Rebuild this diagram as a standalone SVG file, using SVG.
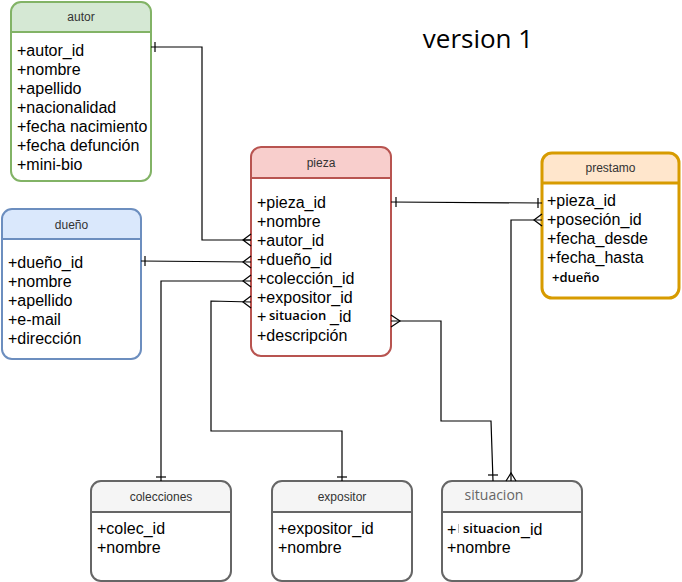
<svg xmlns="http://www.w3.org/2000/svg" width="682" height="582" viewBox="0 0 682 582">
  <style>
    .body { fill: #ffffff; }
    .frame { fill: none; stroke-width: 2; }
    .head { font-family: "Liberation Sans", Arial, sans-serif; font-size: 12px; fill: #333333; text-anchor: middle; }
    .row { font-family: "Liberation Sans", Arial, sans-serif; font-size: 16px; fill: #000000; }
    .strong { font-family: "Open Sans", "Liberation Sans", sans-serif; font-size: 13px; font-weight: 600; fill: #000000; }
    .link { fill: none; stroke: #000000; stroke-width: 1.2; }
    .green { stroke: #82b366; }
    .red { stroke: #b85450; }
    .blue { stroke: #6c8ebf; }
    .orange { stroke: #d79b00; stroke-width: 3; }
    .grey { stroke: #666666; }
  </style>

  <text x="478" y="48" font-family="'Open Sans', 'Noto Sans', sans-serif" font-size="26" text-anchor="middle" fill="#000">version 1</text>

  <!-- autor -->
  <g id="autor">
    <rect class="body" x="11" y="2" width="140" height="179" rx="10"/>
    <path d="M11,32 V12 Q11,2 21,2 H141 Q151,2 151,12 V32 Z" fill="#d5e8d4"/>
    <rect class="frame green" x="11" y="2" width="140" height="179" rx="10"/>
    <line class="green" x1="11" y1="32" x2="151" y2="32" stroke-width="2"/>
    <text class="head" x="81" y="21">autor</text>
    <text class="row" x="17" y="56">+autor_id</text>
    <text class="row" x="17" y="75">+nombre</text>
    <text class="row" x="17" y="94">+apellido</text>
    <text class="row" x="17" y="113">+nacionalidad</text>
    <text class="row" x="17" y="132">+fecha nacimiento</text>
    <text class="row" x="17" y="151">+fecha defunción</text>
    <text class="row" x="17" y="170">+mini-bio</text>
  </g>

  <!-- dueño -->
  <g id="dueno">
    <rect class="body" x="2" y="209" width="139" height="150" rx="10"/>
    <path d="M2,239 V219 Q2,209 12,209 H131 Q141,209 141,219 V239 Z" fill="#dae8fc"/>
    <rect class="frame blue" x="2" y="209" width="139" height="150" rx="10"/>
    <line class="blue" x1="2" y1="239" x2="141" y2="239" stroke-width="2"/>
    <text class="head" x="71.5" y="229">dueño</text>
    <text class="row" x="8" y="268">+dueño_id</text>
    <text class="row" x="8" y="287">+nombre</text>
    <text class="row" x="8" y="306">+apellido</text>
    <text class="row" x="8" y="325">+e-mail</text>
    <text class="row" x="8" y="344">+dirección</text>
  </g>

  <!-- pieza -->
  <g id="pieza">
    <rect class="body" x="251" y="147" width="140" height="209" rx="10"/>
    <path d="M251,178 V157 Q251,147 261,147 H381 Q391,147 391,157 V178 Z" fill="#f8cecc"/>
    <rect class="frame red" x="251" y="147" width="140" height="209" rx="10"/>
    <line class="red" x1="251" y1="178" x2="391" y2="178" stroke-width="2"/>
    <text class="head" x="321" y="167">pieza</text>
    <text class="row" x="257" y="208">+pieza_id</text>
    <text class="row" x="257" y="227">+nombre</text>
    <text class="row" x="257" y="246">+autor_id</text>
    <text class="row" x="257" y="265">+dueño_id</text>
    <text class="row" x="257" y="284">+colección_id</text>
    <text class="row" x="257" y="303">+expositor_id</text>
    <text class="row" x="257" y="322">+</text>
    <text class="strong" x="269" y="320">situacion</text>
    <text class="row" x="330" y="322">_id</text>
    <text class="row" x="257" y="341">+descripción</text>
  </g>

  <!-- prestamo -->
  <g id="prestamo">
    <rect class="body" x="542" y="153" width="137" height="145" rx="10"/>
    <path d="M542,183 V163 Q542,153 552,153 H669 Q679,153 679,163 V183 Z" fill="#ffe6cc"/>
    <rect class="frame orange" x="542" y="153" width="137" height="145" rx="10"/>
    <line class="orange" x1="542" y1="183" x2="679" y2="183" stroke-width="1.5"/>
    <text class="head" x="610.5" y="172">prestamo</text>
    <text class="row" x="547" y="206">+pieza_id</text>
    <text class="row" x="547" y="225">+poseción_id</text>
    <text class="row" x="547" y="244">+fecha_desde</text>
    <text class="row" x="547" y="263">+fecha_hasta</text>
    <text class="strong" x="552" y="282">+dueño</text>
  </g>

  <!-- colecciones -->
  <g id="colecciones">
    <rect class="body" x="91" y="481" width="140" height="100" rx="10"/>
    <path d="M91,512 V491 Q91,481 101,481 H221 Q231,481 231,491 V512 Z" fill="#f5f5f5"/>
    <rect class="frame grey" x="91" y="481" width="140" height="100" rx="10"/>
    <line class="grey" x1="91" y1="512" x2="231" y2="512" stroke-width="2"/>
    <text class="head" x="161" y="501">colecciones</text>
    <text class="row" x="97" y="534">+colec_id</text>
    <text class="row" x="97" y="553">+nombre</text>
  </g>

  <!-- expositor -->
  <g id="expositor">
    <rect class="body" x="272" y="481" width="140" height="100" rx="10"/>
    <path d="M272,512 V491 Q272,481 282,481 H402 Q412,481 412,491 V512 Z" fill="#f5f5f5"/>
    <rect class="frame grey" x="272" y="481" width="140" height="100" rx="10"/>
    <line class="grey" x1="272" y1="512" x2="412" y2="512" stroke-width="2"/>
    <text class="head" x="342" y="501">expositor</text>
    <text class="row" x="278" y="534">+expositor_id</text>
    <text class="row" x="278" y="553">+nombre</text>
  </g>

  <!-- situacion -->
  <g id="situacion">
    <rect class="body" x="442" y="481" width="140" height="100" rx="10"/>
    <path d="M442,512 V491 Q442,481 452,481 H572 Q582,481 582,491 V512 Z" fill="#f5f5f5"/>
    <rect class="frame grey" x="442" y="481" width="140" height="100" rx="10"/>
    <line class="grey" x1="442" y1="512" x2="582" y2="512" stroke-width="2"/>
    <text x="494" y="500" font-family="'Open Sans', 'Liberation Sans', sans-serif" font-size="14" fill="#666666" text-anchor="middle">situacion</text>
    <text class="row" x="447" y="535">+</text>
    <line x1="458.5" y1="524" x2="458.5" y2="533" stroke="#bbbbbb" stroke-width="1"/>
    <text class="strong" x="463" y="533">situacion</text>
    <text class="row" x="521" y="535">_id</text>
    <text class="row" x="447" y="553">+nombre</text>
  </g>

  <!-- relationships -->
  <g id="connectors">
    <!-- autor 1 : N pieza -->
    <path class="link" d="M151,47 H202 V240 H251"/>
    <path class="link" d="M155,42 V52"/>
    <path class="link" d="M251,234 L243,240 L251,246 M243,240 H251"/>

    <!-- dueño 1 : N pieza -->
    <path class="link" d="M141,261 L251,262"/>
    <path class="link" d="M145,256 V266"/>
    <path class="link" d="M251,256 L243,262 L251,268"/>

    <!-- colecciones 1 : N pieza -->
    <path class="link" d="M161,481 V281 H251"/>
    <path class="link" d="M156,477 H166"/>
    <path class="link" d="M251,275 L243,281 L251,287"/>

    <!-- expositor 1 : N pieza -->
    <path class="link" d="M342,481 V431 H211 V301 L251,302"/>
    <path class="link" d="M337,477 H347"/>
    <path class="link" d="M251,296 L243,302 L251,308"/>

    <!-- situacion 1 : N pieza -->
    <path class="link" d="M391,321 H441 V421 H491 L493,481"/>
    <path class="link" d="M488,475 H498"/>
    <path class="link" d="M391,315 L400,321 L391,327"/>

    <!-- pieza 1 : 1 prestamo -->
    <path class="link" d="M391,202 L542,203"/>
    <path class="link" d="M396,197 V207 M538,198 V208"/>

    <!-- situacion N : prestamo -->
    <path class="link" d="M511,481 V220 H542"/>
    <path class="link" d="M542,214 L534,220 L542,226"/>
    <path class="link" d="M506,481 L511,473 L516,481"/>
  </g>
</svg>
